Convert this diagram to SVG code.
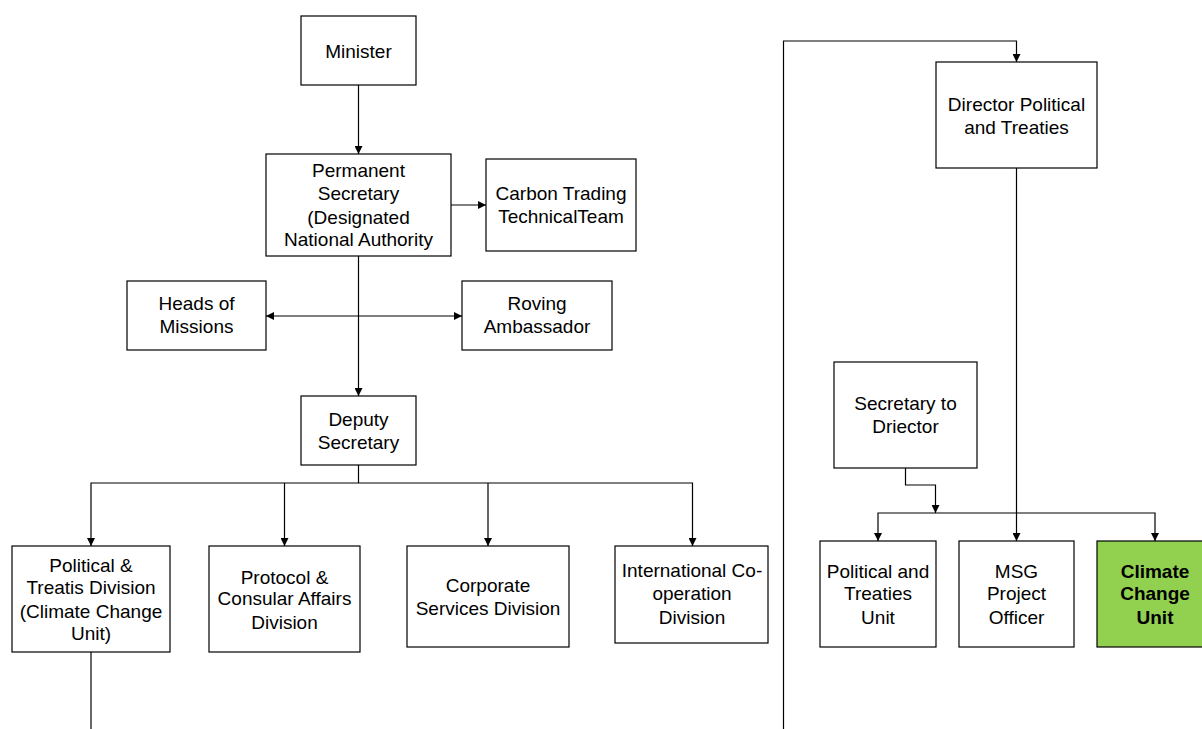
<svg xmlns="http://www.w3.org/2000/svg" width="1202" height="729" viewBox="0 0 1202 729">
<style>
.box{fill:#fff;stroke:#000;stroke-width:1.2}
.green{fill:#92D050;stroke:#000;stroke-width:1.2}
.t{font-family:"Liberation Sans",Arial,sans-serif;font-size:19px;fill:#000;text-anchor:middle}
.b{font-weight:bold}
.c{fill:none;stroke:#000;stroke-width:1.2}
</style>
<defs>
<marker id="ah" viewBox="0 0 10 10" refX="10" refY="5" markerWidth="8" markerHeight="8" markerUnits="userSpaceOnUse" orient="auto-start-reverse">
<path d="M0,0 L10,5 L0,10 Z" fill="#000"/>
</marker>
</defs>
<rect width="1202" height="729" fill="#fff"/>
<g id="connectors">
<path class="c" d="M358.5,85 V154" marker-end="url(#ah)"/>
<path class="c" d="M451,205 H486" marker-end="url(#ah)"/>
<path class="c" d="M358.5,256 V396" marker-end="url(#ah)"/>
<path class="c" d="M266,316 H462" marker-start="url(#ah)" marker-end="url(#ah)"/>
<path class="c" d="M358.5,465 V483"/>
<path class="c" d="M91,546 V483 H692.5 V546" marker-start="url(#ah)" marker-end="url(#ah)"/>
<path class="c" d="M284.5,483 V546" marker-end="url(#ah)"/>
<path class="c" d="M488,483 V546" marker-end="url(#ah)"/>
<path class="c" d="M91,652 V729"/>
<path class="c" d="M783.5,729 V41 H1016.5 V62" marker-end="url(#ah)"/>
<path class="c" d="M1016.5,168 V541" marker-end="url(#ah)"/>
<path class="c" d="M905.5,468 V485 H935.5 V513" marker-end="url(#ah)"/>
<path class="c" d="M878,541 V513 H1155 V541" marker-start="url(#ah)" marker-end="url(#ah)"/>
</g>
<g id="minister"><rect class="box" x="301" y="16" width="115" height="69"/><text class="t" x="358.5" y="58">Minister</text></g>
<g id="permanent-secretary"><rect class="box" x="266" y="154" width="185" height="102"/>
<text class="t" x="358.5" y="177">Permanent</text><text class="t" x="358.5" y="200">Secretary</text><text class="t" x="358.5" y="224">(Designated</text><text class="t" x="358.5" y="246">National Authority</text></g>
<g id="carbon-trading"><rect class="box" x="486" y="159" width="150" height="92"/>
<text class="t" x="561" y="200">Carbon Trading</text><text class="t" x="561" y="223">TechnicalTeam</text></g>
<g id="heads-of-missions"><rect class="box" x="127" y="281" width="139" height="69"/>
<text class="t" x="196.5" y="310">Heads of</text><text class="t" x="196.5" y="333">Missions</text></g>
<g id="roving-ambassador"><rect class="box" x="462" y="281" width="150" height="69"/>
<text class="t" x="537" y="310">Roving</text><text class="t" x="537" y="333">Ambassador</text></g>
<g id="deputy-secretary"><rect class="box" x="301" y="396" width="115" height="69"/>
<text class="t" x="358.5" y="426">Deputy</text><text class="t" x="358.5" y="449">Secretary</text></g>
<g id="political-treatis"><rect class="box" x="12" y="546" width="158" height="106"/>
<text class="t" x="91" y="572">Political &amp;</text><text class="t" x="91" y="594">Treatis Division</text><text class="t" x="91" y="618">(Climate Change</text><text class="t" x="91" y="640">Unit)</text></g>
<g id="protocol-consular"><rect class="box" x="209" y="546" width="151" height="106"/>
<text class="t" x="284.5" y="584">Protocol &amp;</text><text class="t" x="284.5" y="605">Consular Affairs</text><text class="t" x="284.5" y="629">Division</text></g>
<g id="corporate-services"><rect class="box" x="407" y="546" width="162" height="101"/>
<text class="t" x="488" y="592">Corporate</text><text class="t" x="488" y="615">Services Division</text></g>
<g id="international-cooperation"><rect class="box" x="615" y="546" width="153" height="97"/>
<text class="t" x="692" y="577">International Co-</text><text class="t" x="692" y="600">operation</text><text class="t" x="692" y="624">Division</text></g>
<g id="director-political"><rect class="box" x="936" y="62" width="161" height="106"/>
<text class="t" x="1016.5" y="111">Director Political</text><text class="t" x="1016.5" y="134">and Treaties</text></g>
<g id="secretary-to-director"><rect class="box" x="834" y="362" width="143" height="106"/>
<text class="t" x="905.5" y="410">Secretary to</text><text class="t" x="905.5" y="433">Driector</text></g>
<g id="political-treaties-unit"><rect class="box" x="820" y="541" width="116" height="106"/>
<text class="t" x="878" y="578">Political and</text><text class="t" x="878" y="600">Treaties</text><text class="t" x="878" y="624">Unit</text></g>
<g id="msg-project-officer"><rect class="box" x="959" y="541" width="115" height="106"/>
<text class="t" x="1016.5" y="578">MSG</text><text class="t" x="1016.5" y="600">Project</text><text class="t" x="1016.5" y="624">Officer</text></g>
<g id="climate-change-unit"><rect class="green" x="1097" y="541" width="110" height="106"/>
<text class="t b" x="1155" y="578">Climate</text><text class="t b" x="1155" y="600">Change</text><text class="t b" x="1155" y="624">Unit</text></g>
</svg>
